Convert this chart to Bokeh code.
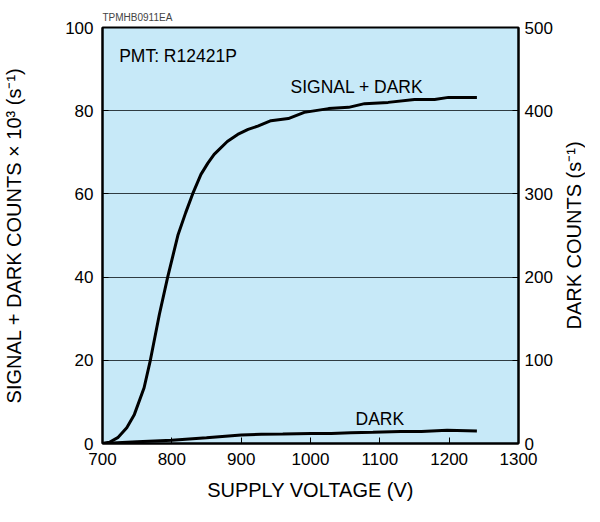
import math
from bokeh.plotting import figure
from bokeh.models import LinearAxis, Range1d, Label, FixedTicker
from bokeh.embed import file_html
from bokeh.resources import INLINE

# ---- data ----
sig_voltage = [700, 710, 722, 735, 746, 760, 769, 782, 794, 809, 820, 830, 842,
               852, 861, 880, 895, 910, 924, 943, 968, 991, 1026, 1055, 1078,
               1112, 1150, 1179, 1199, 1240]
sig_counts = [0, 0.3, 1.4, 3.8, 7.0, 13.4, 20, 31, 40, 50.2, 55.5, 60, 64.7,
              67.4, 69.5, 72.6, 74.3, 75.5, 76.3, 77.6, 78.1, 79.6, 80.5, 80.8,
              81.7, 82.0, 82.7, 82.7, 83.2, 83.2]

dark_voltage = [700, 750, 800, 850, 900, 929, 960, 1001, 1030, 1058, 1090,
                1130, 1160, 1197, 1240]
dark_counts = [0, 2, 4, 7, 10.3, 11.2, 11.3, 11.9, 11.9, 13, 13.5, 14.3, 14.5,
               16, 15.1]

x_ticks = [700, 800, 900, 1000, 1100, 1200, 1300]
left_ticks = [0, 20, 40, 60, 80, 100]
right_ticks = [0, 100, 200, 300, 400, 500]

FONT = "Liberation Sans"
BG = "#c7e9f8"

p = figure(frame_width=416, frame_height=416, output_backend="svg",
           toolbar_location=None,
           x_range=Range1d(700, 1300), y_range=Range1d(0, 100),
           min_border_left=101, min_border_right=67, min_border_top=27,
           min_border_bottom=63, background_fill_color=BG,
           border_fill_color="white", title="TPMHB0911EA")
p.extra_y_ranges = {"dark": Range1d(0, 500)}

p.title.text_font = FONT
p.title.text_font_size = "10px"
p.title.text_font_style = "normal"
p.title.align = "left"
p.title.standoff = 10

p.outline_line_color = "black"
p.outline_line_width = 2

p.xgrid.grid_line_color = None
p.ygrid.ticker = FixedTicker(ticks=left_ticks)
p.ygrid.grid_line_color = "#2f3c42"
p.ygrid.grid_line_width = 1

p.line(sig_voltage, sig_counts, line_color="black", line_width=3)
p.line(dark_voltage, dark_counts, line_color="black", line_width=3,
       y_range_name="dark")

right = LinearAxis(y_range_name="dark", ticker=FixedTicker(ticks=right_ticks))
p.add_layout(right, "right")

# right-hand title placed in the right side panel (not clipped to the frame)
p.add_layout(Label(x=1380, y=50, text="DARK COUNTS (s\u207b\u00b9)",
                   angle=math.pi / 2, text_font=FONT, text_font_size="20px",
                   text_align="center", text_baseline="middle",
                   text_color="black"), "right")

p.xaxis.ticker = FixedTicker(ticks=x_ticks)
p.yaxis[0].ticker = FixedTicker(ticks=left_ticks)

p.xaxis.axis_label = "SUPPLY VOLTAGE (V)"
p.yaxis[0].axis_label = "SIGNAL + DARK COUNTS \u00d7 10\u00b3 (s\u207b\u00b9)"

for ax in [p.xaxis[0], p.yaxis[0], right]:
    ax.axis_line_color = "black"
    ax.axis_line_width = 2
    ax.major_tick_in = 6
    ax.major_tick_out = 0
    ax.minor_tick_line_color = None
    ax.major_tick_line_color = "black"
    ax.major_tick_line_width = 1
    ax.major_label_text_font = FONT
    ax.major_label_text_font_size = "17px"
    ax.major_label_text_color = "black"
    ax.axis_label_text_font = FONT
    ax.axis_label_text_font_size = "20px"
    ax.axis_label_text_font_style = "normal"
    ax.axis_label_text_color = "black"

p.xaxis.major_label_standoff = 9
p.xaxis.axis_label_standoff = 11
p.yaxis[0].major_label_standoff = 9
p.yaxis[0].axis_label_standoff = 37
right.major_label_standoff = 6

for txt, x, y, align in [("PMT: R12421P", 724, 93.1, "left"),
                         ("SIGNAL + DARK", 1067, 85.6, "center"),
                         ("DARK", 1100, 5.8, "center")]:
    p.add_layout(Label(x=x, y=y, text=txt, text_font=FONT,
                       text_font_size="17.5px", text_align=align,
                       text_baseline="alphabetic", text_color="black"))

open("out.html", "w").write(file_html(p, INLINE))
